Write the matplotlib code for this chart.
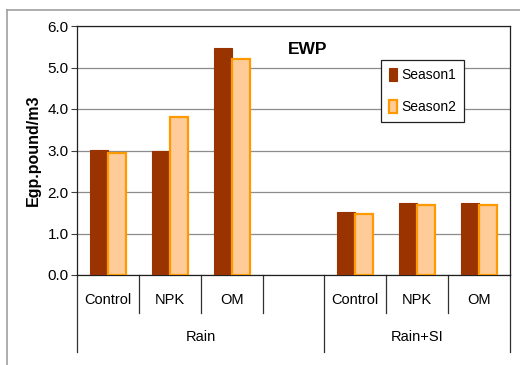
import numpy as np
import matplotlib
matplotlib.use('Agg')
import matplotlib.pyplot as plt
from matplotlib.lines import Line2D

# Daten
treatments = ['Control', 'NPK', 'OM']
groups = ['Rain', 'Rain+SI']
season1 = {'Rain': [3.01, 2.98, 5.48], 'Rain+SI': [1.53, 1.73, 1.73]}
season2 = {'Rain': [2.93, 3.80, 5.20], 'Rain+SI': [1.48, 1.68, 1.68]}
series_names = ['Season1', 'Season2']

plt.rcParams['font.family'] = ['Liberation Sans', 'DejaVu Sans']

fig = plt.figure(figsize=(5.2, 3.65), dpi=100)
W, H = 520, 365
ax = fig.add_axes([77 / W, (H - 275) / H, 433 / W, 249 / H])

# Slots: 3 Rain, 1 leer, 3 Rain+SI
pos = {'Rain': np.arange(3), 'Rain+SI': np.arange(3) + 4}
bw = 0.29
for g in groups:
    ax.bar(pos[g] - bw / 2, season1[g], bw, color='#993300', edgecolor='#993300',
           linewidth=0.8, zorder=3, label=series_names[0] if g == 'Rain' else None)
    ax.bar(pos[g] + bw / 2, season2[g], bw, color='#FFCC99', edgecolor='#FF9900',
           linewidth=1.6, zorder=3, label=series_names[1] if g == 'Rain' else None)

ax.set_xlim(-0.5, 6.5)
ax.set_ylim(0, 6)
ax.set_yticks(np.arange(0, 6.1, 1))
ax.set_yticklabels([f'{v:.1f}' for v in np.arange(0, 6.1, 1)], fontsize=11)
ax.tick_params(axis='y', length=4, width=0.8, color='#404040', pad=2)
ax.set_xticks([])
ax.grid(axis='y', color='#8c8c8c', linewidth=0.9, zorder=0)
for s in ax.spines.values():
    s.set_color('#202020')
    s.set_linewidth(0.9)

# Kategorie-Achse (zweistufig)
trans = ax.get_xaxis_transform()
px = 1 / 249  # ein Pixel in Achsenhöhe
for x in [0.5, 1.5, 2.5, 4.5, 5.5]:
    ax.add_line(Line2D([x, x], [0, -38 * px], transform=trans, color='#303030',
                       linewidth=0.9, clip_on=False))
for x in [-0.5, 3.5, 6.5]:
    ax.add_line(Line2D([x, x], [0, -77 * px], transform=trans, color='#303030',
                       linewidth=0.9, clip_on=False))
for g in groups:
    for p, t in zip(pos[g], treatments):
        ax.text(p, -25 * px, t, transform=trans, ha='center', va='center', fontsize=10.5)
ax.text(1.5, -62 * px, groups[0], transform=trans, ha='center', va='center', fontsize=10.5)
ax.text(5.0, -62 * px, groups[1], transform=trans, ha='center', va='center', fontsize=10.5)

fig.text(33 / W, 1 - 150 / H, 'Egp.pound/m3', fontsize=11.5, fontweight='bold',
         rotation=90, ha='center', va='center')
fig.text(308 / W, 1 - 50 / H, 'EWP', fontsize=12.5, fontweight='bold', ha='center', va='center')

leg = ax.legend(loc='upper left', bbox_to_anchor=(381 / W, 1 - 60 / H),
                bbox_transform=fig.transFigure, fontsize=10, frameon=True, fancybox=False,
                edgecolor='#202020', framealpha=1, handlelength=0.6, handleheight=1.1,
                handletextpad=0.3, labelspacing=1.3, borderpad=0.55, borderaxespad=0)
leg.get_frame().set_linewidth(0.9)

# äußerer Rahmen
fig.add_artist(Line2D([7 / W, 7 / W], [0, 1 - 10 / H], transform=fig.transFigure,
                      color='#a0a0a0', linewidth=1.2))
fig.add_artist(Line2D([7 / W, 1], [1 - 10 / H, 1 - 10 / H], transform=fig.transFigure,
                      color='#a0a0a0', linewidth=1.2))

fig.savefig('out.png', dpi=100)
